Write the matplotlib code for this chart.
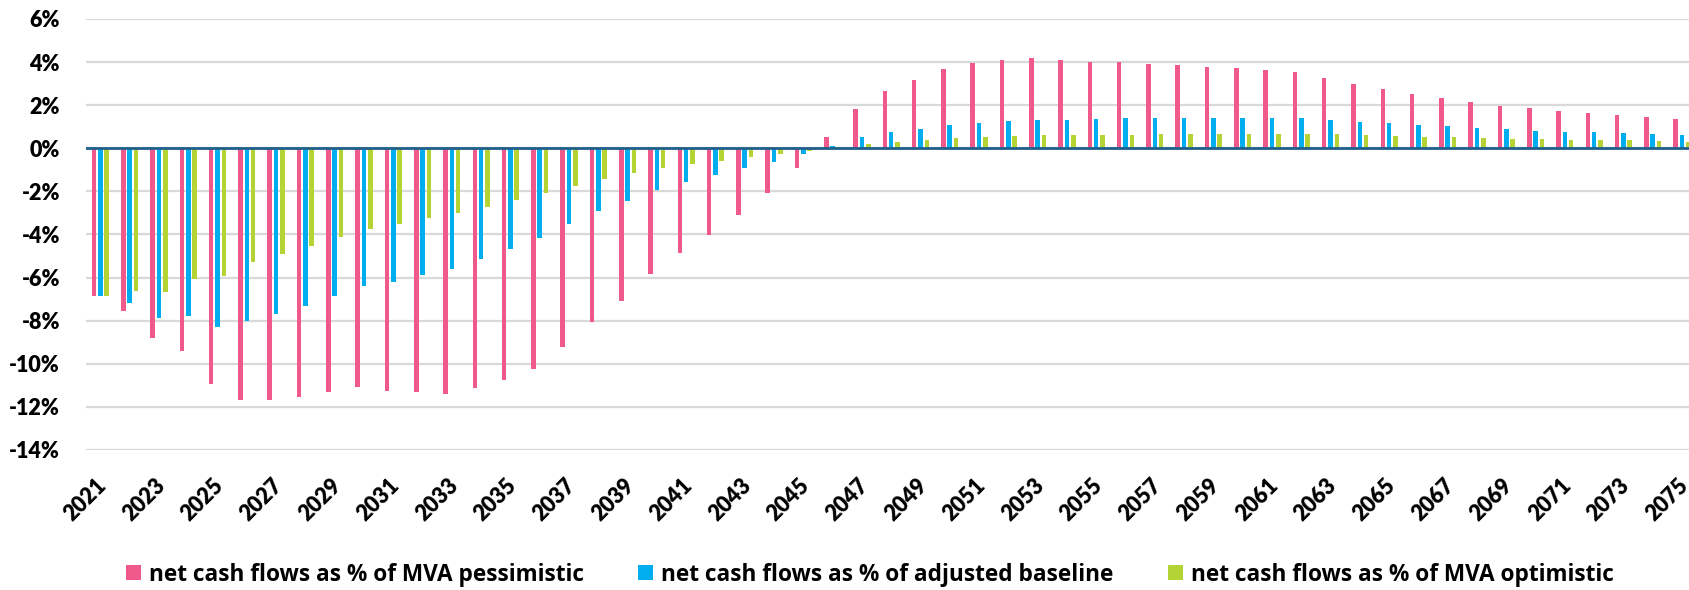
import matplotlib
matplotlib.use("Agg")
import matplotlib.pyplot as plt
import matplotlib.transforms as mtransforms
from matplotlib.font_manager import FontProperties
import numpy as np

years = list(range(2021, 2076))

pessimistic = [
    -6.87, -7.57, -8.82, -9.41, -10.94, -11.70, -11.66, -11.56, -11.30, -11.10,
    -11.27, -11.30, -11.39, -11.13, -10.76, -10.22, -9.20, -8.05, -7.11, -5.85,
    -4.88, -4.02, -3.08, -2.09, -0.90, 0.50, 1.83, 2.66, 3.17, 3.67,
    3.95, 4.09, 4.20, 4.10, 4.02, 3.98, 3.92, 3.84, 3.78, 3.70,
    3.62, 3.54, 3.25, 3.00, 2.76, 2.52, 2.34, 2.15, 1.98, 1.86,
    1.73, 1.63, 1.55, 1.46, 1.36,
]
baseline = [
    -6.87, -7.18, -7.86, -7.80, -8.30, -8.03, -7.71, -7.31, -6.84, -6.39,
    -6.21, -5.90, -5.59, -5.15, -4.67, -4.16, -3.53, -2.93, -2.45, -1.92,
    -1.55, -1.24, -0.93, -0.62, -0.28, 0.11, 0.50, 0.73, 0.91, 1.08,
    1.19, 1.28, 1.33, 1.33, 1.36, 1.38, 1.38, 1.39, 1.39, 1.41,
    1.41, 1.41, 1.32, 1.22, 1.15, 1.08, 1.01, 0.94, 0.87, 0.82,
    0.77, 0.73, 0.70, 0.67, 0.63,
]
optimistic = [
    -6.87, -6.63, -6.67, -6.07, -5.94, -5.26, -4.89, -4.55, -4.10, -3.76,
    -3.53, -3.25, -3.02, -2.71, -2.40, -2.09, -1.73, -1.42, -1.16, -0.91,
    -0.71, -0.57, -0.43, -0.28, -0.14, 0.05, 0.20, 0.31, 0.40, 0.48,
    0.54, 0.59, 0.62, 0.63, 0.63, 0.63, 0.65, 0.67, 0.67, 0.68,
    0.68, 0.68, 0.65, 0.60, 0.57, 0.53, 0.50, 0.48, 0.45, 0.42,
    0.40, 0.37, 0.36, 0.34, 0.31,
]
series_labels = [
    "net cash flows as % of MVA pessimistic",
    "net cash flows as % of adjusted baseline",
    "net cash flows as % of MVA optimistic",
]
colors = ["#F05A8A", "#00AEEF", "#B4D334"]
y_ticks = [6, 4, 2, 0, -2, -4, -6, -8, -10, -12, -14]

W, H, DPI = 1690, 590, 100
fig = plt.figure(figsize=(W / DPI, H / DPI), dpi=DPI)
ax_left, ax_top, ax_bottom = 86, 18.9, 450
ax = fig.add_axes([ax_left / W, 1 - ax_bottom / H, (W - ax_left) / W, (ax_bottom - ax_top) / H])

x = np.arange(len(years))
bw = 0.156
stride = 0.216
for i, (vals, c, lab) in enumerate(zip([pessimistic, baseline, optimistic], colors, series_labels)):
    ax.bar(x + (i - 1) * stride, vals, width=bw, color=c, label=lab, zorder=2,
           edgecolor="none")

cat_px = 29.29
ax.set_xlim(-0.49, -0.49 + (W - ax_left) / cat_px)
ax.set_ylim(-14, 6)

ax.set_yticks(y_ticks)
ax.set_yticklabels([f"{v}%" for v in y_ticks])
ax.yaxis.grid(True, color="#D9D9D9", linewidth=1.6, zorder=0)
ax.set_axisbelow(True)
ax.axhline(0, color="#1F5F8B", linewidth=2.0, zorder=3)

for s in ax.spines.values():
    s.set_visible(False)

tick_fp = FontProperties(family="Lato", weight="heavy", size=15.5)
ax.tick_params(axis="y", length=0, pad=18.7)
for lab in ax.get_yticklabels():
    lab.set_fontproperties(tick_fp)
    lab.set_color("black")

ax.set_xticks(x[::2])
ax.set_xticklabels([str(y) for y in years[::2]], rotation=45, ha="right", va="center",
                   rotation_mode="anchor", fontproperties=tick_fp)
ax.tick_params(axis="x", length=0, pad=23.0)
offset = mtransforms.ScaledTranslation(3 / DPI, 0, fig.dpi_scale_trans)
for lab in ax.get_xticklabels():
    lab.set_transform(lab.get_transform() + offset)

handles, labels = ax.get_legend_handles_labels()
leg = fig.legend(handles, labels, loc="center", bbox_to_anchor=(0.5148, 0.026), ncol=3,
                 frameon=False, handlelength=0.66, handleheight=0.66, handletextpad=0.35,
                 columnspacing=2.4,
                 prop=FontProperties(family="Open Sans", weight="bold", size=16.3))

fig.savefig("out.png", dpi=DPI)
